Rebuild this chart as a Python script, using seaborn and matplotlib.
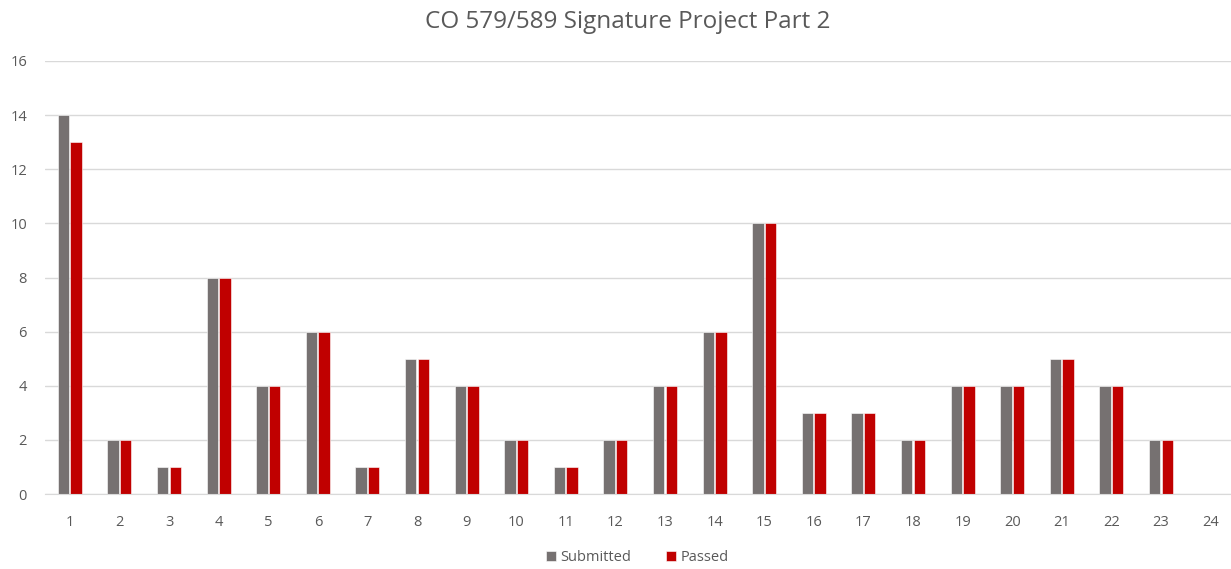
import matplotlib
matplotlib.use("Agg")
import matplotlib.pyplot as plt
import seaborn as sns
import pandas as pd

# Per-assignment counts for the signature project
weeks = [str(i) for i in range(1, 25)]
submitted = [14, 2, 1, 8, 4, 6, 1, 5, 4, 2, 1, 2, 4, 6, 10, 3, 3, 2, 4, 4, 5, 4, 2, 0]
passed = [13, 2, 1, 8, 4, 6, 1, 5, 4, 2, 1, 2, 4, 6, 10, 3, 3, 2, 4, 4, 5, 4, 2, 0]
series = ["Submitted", "Passed"]
colors = ["#767171", "#C00000"]
y_ticks = [0, 2, 4, 6, 8, 10, 12, 14, 16]

df = pd.DataFrame({
    "week": weeks * 2,
    "count": submitted + passed,
    "series": [series[0]] * len(weeks) + [series[1]] * len(weeks),
})

sns.set_style("white")
plt.rcParams["font.family"] = ["Open Sans", "DejaVu Sans"]

fig = plt.figure(figsize=(12.31, 5.69), dpi=100)
ax = fig.add_axes([0.0366, 0.1318, 0.967, 0.761])

sns.barplot(data=df, x="week", y="count", hue="series", order=weeks,
            hue_order=series, palette=colors, width=0.51, gap=0.1,
            edgecolor="white", linewidth=0.4, saturation=1, ax=ax)

ax.set_xlim(-0.5, 23.5)
ax.set_ylim(0, 16)
ax.set_yticks(y_ticks)
ax.grid(axis="y", color="#d9d9d9", linewidth=1)
ax.set_axisbelow(True)
for s in ["top", "right", "left"]:
    ax.spines[s].set_visible(False)
ax.spines["bottom"].set_color("#d9d9d9")
ax.tick_params(axis="both", length=0, labelsize=10.5, colors="#595959")
ax.tick_params(axis="y", pad=13)
ax.tick_params(axis="x", pad=15)
ax.set_xlabel("")
ax.set_ylabel("")

fig.text(0.51, 0.962, "CO 579/589 Signature Project Part 2", ha="center", va="center",
         fontsize=17.5, color="#595959")

ax.legend(loc="center", bbox_to_anchor=(0.4975, -0.146), ncol=2, frameon=False,
          fontsize=10.5, labelcolor="#595959", handlelength=0.7, handleheight=0.7,
          handletextpad=0.3, columnspacing=2.4)

fig.savefig("out.png", dpi=100)
